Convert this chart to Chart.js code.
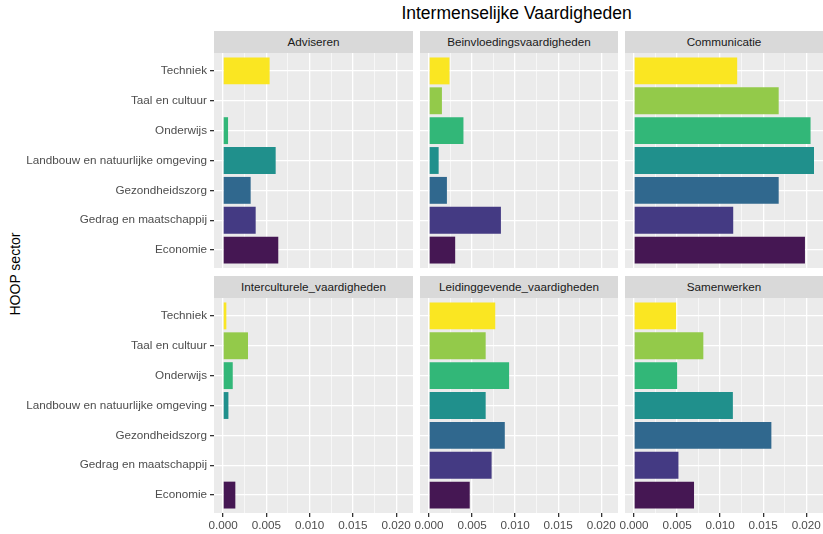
<!DOCTYPE html>
<html>
<head>
<meta charset="utf-8">
<script src="https://cdn.jsdelivr.net/npm/chart.js@4.4.0/dist/chart.umd.min.js"></script>
<style>
  body { margin: 0; background: #fff; font-family: "Liberation Sans", Arial, sans-serif; }
  #wrap { position: relative; width: 823px; height: 534px; overflow: hidden; }
  .strip { position: absolute; height: 22px; line-height: 22px; background: #D9D9D9; color: #1A1A1A; font-size: 11.7px; text-align: center; }
  canvas { position: absolute; }
  #title { position: absolute; left: 212px; width: 609px; top: 3px; text-align: center; font-size: 17.5px; color: #000; }
  #ytitle { position: absolute; left: -35px; top: 266px; width: 100px; text-align: center; font-size: 14px; color: #000; transform: rotate(-90deg); }
</style>
</head>
<body>
<div id="wrap">
  <div id="title">Intermenselijke Vaardigheden</div>
  <div id="ytitle">HOOP sector</div>
</div>
<script>
// sectors, top to bottom as in the picture
const sectors = ['Techniek', 'Taal en cultuur', 'Onderwijs', 'Landbouw en natuurlijke omgeving',
  'Gezondheidszorg', 'Gedrag en maatschappij', 'Economie'];
const sectorColors = ['#FAE622', '#93CA4A', '#32B778', '#20908C', '#30688E', '#443A83', '#451753'];

const skills = ['Adviseren', 'Beinvloedingsvaardigheden', 'Communicatie',
  'Interculturele_vaardigheden', 'Leidinggevende_vaardigheden', 'Samenwerken'];

const adviseren = [0.00538, 0, 0.00058, 0.00608, 0.00319, 0.00377, 0.00638];
const beinvloeding = [0.00238, 0.0015, 0.0040, 0.00112, 0.00208, 0.00835, 0.00304];
const communicatie = [0.01198, 0.0168, 0.0205, 0.0209, 0.0168, 0.01152, 0.01985];
const intercultureel = [0.00038, 0.00288, 0.00112, 0.00062, 0, 0, 0.00142];
const leidinggevend = [0.00769, 0.00658, 0.0093, 0.00658, 0.0088, 0.00727, 0.00473];
const samenwerken = [0.00489, 0.00805, 0.00501, 0.01148, 0.01595, 0.00516, 0.00697];

const majorTicks = [0, 0.005, 0.010, 0.015, 0.020];
const minorTicks = [0.0025, 0.0075, 0.0125, 0.0175];

const series = [adviseren, beinvloeding, communicatie, intercultureel, leidinggevend, samenwerken];

// ggplot style 5% expansion around the data
const dataMax = Math.max(...series.flat());
const xMin = -0.05 * dataMax;
const xMax = dataMax * 1.05;

const colLeft = [214, 420, 625];
const colWidth = [199, 198, 198];
const rowTop = [53, 298];
const panelHeight = 215;
const stripTop = [31, 276];
const labelFont = { family: '"Liberation Sans", Arial, sans-serif', size: 11.7 };

const panelBg = {
  id: 'panelBg',
  beforeDraw(chart) {
    const { ctx, chartArea: a } = chart;
    ctx.save();
    ctx.fillStyle = '#EBEBEB';
    ctx.fillRect(a.left, a.top, a.right - a.left, a.bottom - a.top);
    ctx.restore();
  }
};

function isMajor(v) {
  return majorTicks.some(t => Math.abs(t - v) < 1e-9);
}

const wrap = document.getElementById('wrap');

function makePanel(k) {
  const row = Math.floor(k / 3), col = k % 3;
  const showY = col === 0, showX = row === 1;

  const strip = document.createElement('div');
  strip.className = 'strip';
  strip.style.left = colLeft[col] + 'px';
  strip.style.width = colWidth[col] + 'px';
  strip.style.top = stripTop[row] + 'px';
  strip.textContent = skills[k];
  wrap.appendChild(strip);

  // every canvas starts at the left edge so tick labels never get clipped
  const yAxisW = colLeft[col];
  const xAxisH = showX ? 21 : 0;
  const canvas = document.createElement('canvas');
  const w = colWidth[col] + yAxisW, h = panelHeight + xAxisH;
  canvas.width = w; canvas.height = h;
  canvas.style.width = w + 'px'; canvas.style.height = h + 'px';
  canvas.style.left = '0px';
  canvas.style.top = rowTop[row] + 'px';
  wrap.appendChild(canvas);

  new Chart(canvas, {
    type: 'bar',
    data: {
      datasets: [{
        data: series[k].map((v, i) => ({ x: v, y: i + 1 })),
        backgroundColor: sectorColors,
        borderWidth: 0,
        barPercentage: 0.9,
        categoryPercentage: 1.0
      }]
    },
    options: {
      indexAxis: 'y',
      responsive: false,
      animation: false,
      layout: { padding: 0 },
      plugins: { legend: { display: false }, tooltip: { enabled: false } },
      scales: {
        x: {
          type: 'linear',
          min: xMin, max: xMax,
          afterBuildTicks: s => { s.ticks = [...majorTicks, ...minorTicks].sort((a, b) => a - b).map(v => ({ value: v })); },
          afterFit: s => { s.height = xAxisH; s.paddingLeft = 0; s.paddingRight = 0; },
          border: { display: false },
          grid: {
            color: '#FFFFFF',
            lineWidth: c => isMajor(c.tick.value) ? 1.3 : 0.6,
            drawTicks: showX,
            tickLength: 4,
            tickColor: c => isMajor(c.tick.value) ? '#333333' : 'rgba(0,0,0,0)'
          },
          ticks: {
            display: showX,
            autoSkip: false,
            maxRotation: 0,
            padding: 2,
            color: '#4D4D4D',
            font: labelFont,
            callback: v => isMajor(v) ? v.toFixed(3) : ''
          }
        },
        y: {
          type: 'linear',
          reverse: true,
          offset: false,
          min: 0.4, max: 7.6,
          afterBuildTicks: s => { s.ticks = sectors.map((_, i) => ({ value: i + 1 })); },
          afterFit: s => { s.width = yAxisW; s.paddingTop = 0; s.paddingBottom = 0; },
          border: { display: false },
          grid: {
            offset: false,
            color: '#FFFFFF',
            lineWidth: 1.3,
            drawTicks: showY,
            tickLength: 4,
            tickColor: '#333333'
          },
          ticks: {
            display: showY,
            autoSkip: false,
            padding: 3,
            color: '#4D4D4D',
            font: labelFont,
            callback: v => sectors[v - 1]
          }
        }
      }
    },
    plugins: [panelBg]
  });
}

skills.forEach((_, k) => makePanel(k));
</script>
</body>
</html>
